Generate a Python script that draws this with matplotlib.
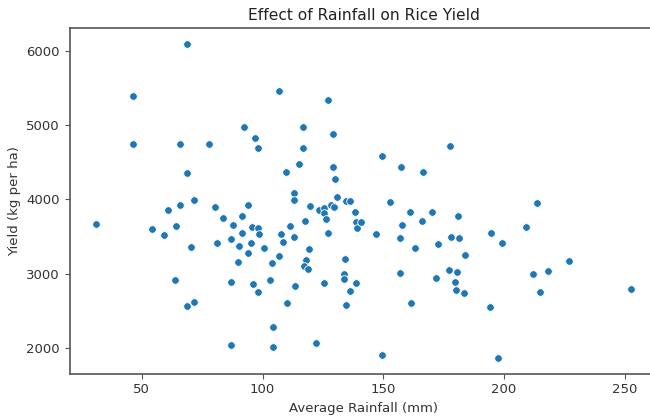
import matplotlib
matplotlib.use("Agg")
import matplotlib.pyplot as plt

# Average rainfall (mm) and rice yield (kg per ha)
rainfall = [
    68.9, 46.4, 46.4, 65.7, 77.8, 68.7, 71.7, 65.7, 60.8, 80.4,
    31.2, 54.3, 64.1, 59.1, 70.2, 81.0, 63.7, 71.8, 68.7, 113.0,
    113.0, 94.0, 119.6, 123.5, 125.6, 125.6, 126.3, 128.2, 129.5, 130.7,
    134.6, 136.3, 138.5, 138.6, 139.2, 127.1, 83.8, 91.4, 87.8, 95.8,
    98.0, 98.5, 91.4, 87.1, 90.3, 95.3, 93.8, 100.8, 107.5, 111.3,
    113.0, 108.3, 117.7, 119.2, 106.9, 103.9, 89.7, 118.1, 117.3, 118.9,
    134.2, 133.8, 133.8, 138.9, 136.1, 134.5, 87.0, 96.0, 98.2, 103.0,
    113.4, 125.6, 110.2, 104.3, 87.0, 104.3, 122.0, 106.9, 127.0, 92.5,
    116.9, 96.8, 98.3, 116.9, 129.3, 115.2, 109.8, 129.3, 130.2, 177.5,
    149.5, 157.4, 166.4, 152.7, 140.8, 160.9, 170.3, 166.0, 157.9, 181.0,
    146.8, 157.0, 178.2, 181.5, 194.7, 199.1, 172.8, 163.2, 183.7, 157.0,
    172.0, 177.1, 180.7, 179.7, 180.2, 183.3, 161.5, 194.4, 149.5, 197.6,
    213.8, 209.3, 227.1, 218.1, 212.0, 214.9, 252.7,
]
yield_kg = [
    6094, 5395, 4744, 4744, 4744, 4354, 3993, 3920, 3852, 3892,
    3663, 3604, 3640, 3519, 3362, 3412, 2914, 2613, 2564, 4085,
    3990, 3919, 3906, 3860, 3879, 3811, 3735, 3923, 3892, 4035,
    3977, 3977, 3833, 3700, 3620, 3542, 3748, 3775, 3654, 3623,
    3609, 3529, 3546, 3461, 3375, 3412, 3277, 3340, 3533, 3640,
    3496, 3421, 3713, 3327, 3241, 3143, 3156, 3183, 3098, 3062,
    3196, 2994, 2927, 2869, 2770, 2577, 2891, 2856, 2748, 2914,
    2833, 2877, 2600, 2285, 2043, 2008, 2070, 5467, 5346, 4973,
    4973, 4825, 4694, 4694, 4883, 4475, 4367, 4439, 4282, 4717,
    4587, 4431, 4367, 3965, 3690, 3833, 3833, 3712, 3654, 3775,
    3533, 3483, 3496, 3483, 3542, 3408, 3398, 3340, 3254, 3012,
    2941, 3048, 3021, 2883, 2779, 2735, 2604, 2554, 1900, 1864,
    3959, 3627, 3169, 3035, 2999, 2748, 2792,
]

fig = plt.figure(figsize=(6.5, 4.19), dpi=100)
# axes runs slightly past the right edge, as in the cropped reference
ax = fig.add_axes([0.1072, 0.108, 0.905, 0.8245])

ax.scatter(rainfall, yield_kg, s=30, color="#1f77b4", edgecolors="white", linewidths=0.6)

ax.set_title("Effect of Rainfall on Rice Yield", fontsize=11.2, color="#222222")
ax.set_xlabel("Average Rainfall (mm)", fontsize=9.5, color="#333333")
ax.set_ylabel("Yield (kg per ha)", fontsize=9.5, color="#333333")
ax.set_xticks([50, 100, 150, 200, 250])
ax.set_yticks([2000, 3000, 4000, 5000, 6000])
ax.tick_params(labelsize=9.5, labelcolor="#333333", color="#555555")
for sp in ax.spines.values():
    sp.set_color("#555555")
    sp.set_linewidth(1.2)

fig.savefig("out.png", dpi=100)
